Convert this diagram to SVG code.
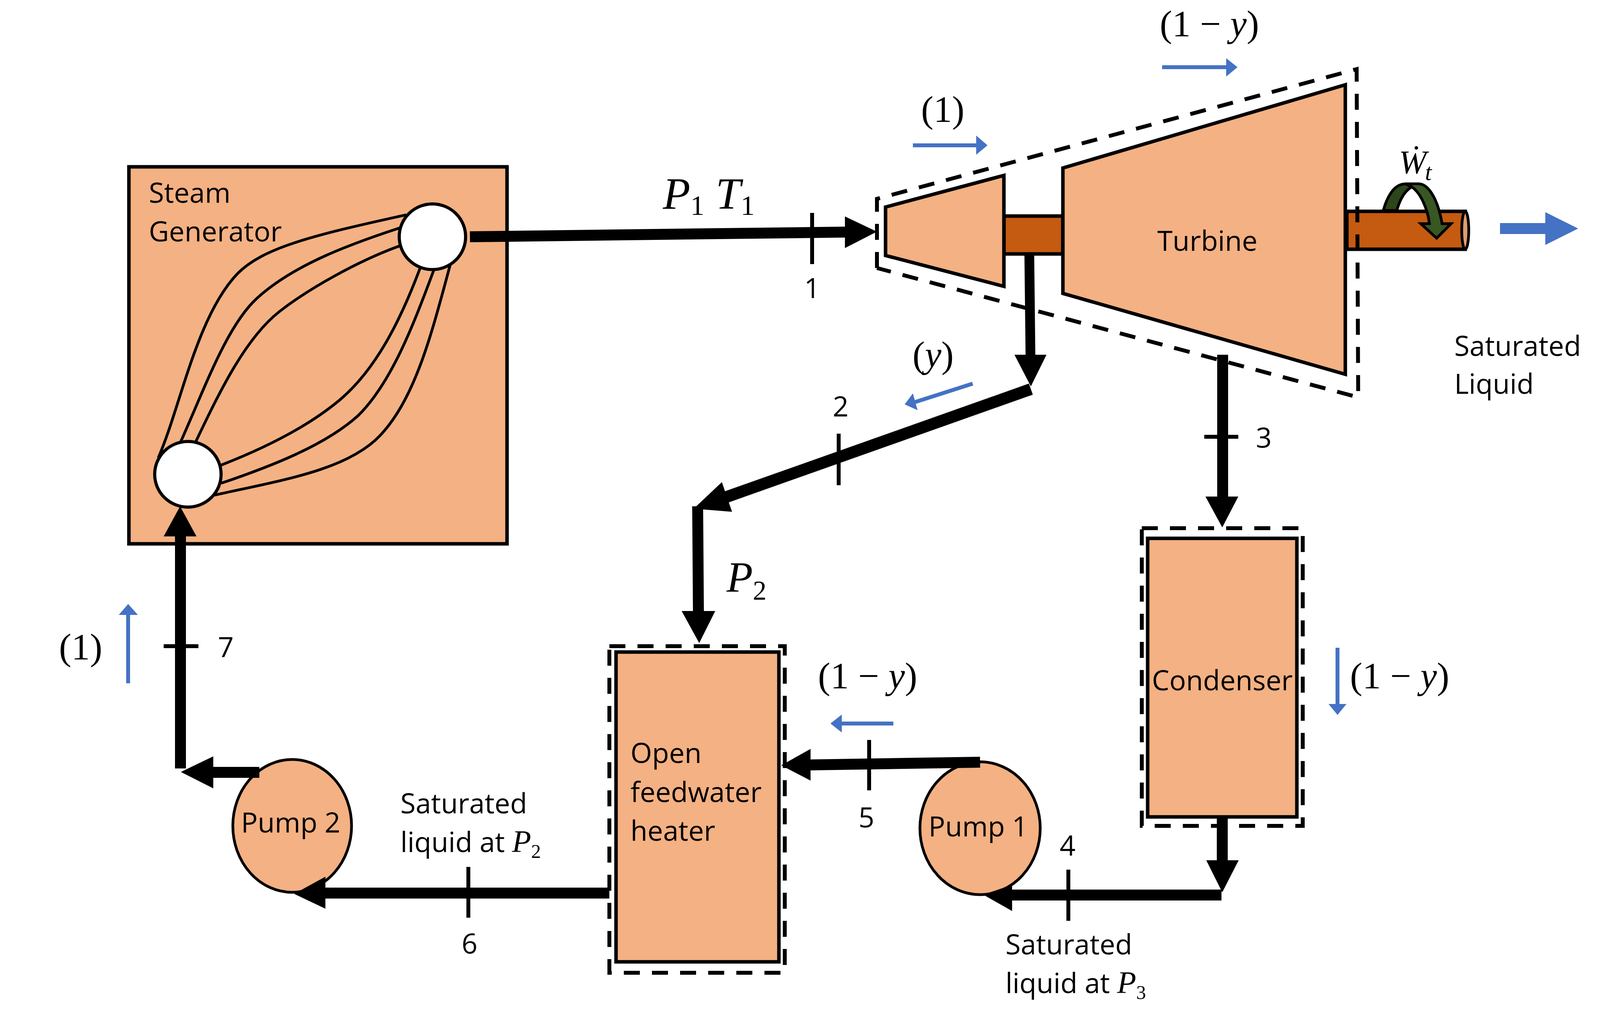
<svg xmlns="http://www.w3.org/2000/svg" width="4126" height="2616" viewBox="0 0 4126 2616">
<style>
text{font-family:"Open Sans","Noto Sans","Liberation Sans",sans-serif;font-size:71px;fill:#000}
.m{font-family:"Liberation Serif","Times New Roman",serif;font-size:95px}
.i{font-style:italic}
.n{fill:#F4B183;stroke:#000;stroke-width:9}
.s{fill:#C55A11;stroke:#000;stroke-width:9}
.d{fill:none;stroke:#000;stroke-width:10;stroke-dasharray:41 31}
.c{fill:none;stroke:#000;stroke-width:7;vector-effect:non-scaling-stroke}
.w{fill:#fff;stroke:#000;stroke-width:8}
.l{fill:none;stroke:#000;stroke-width:28}
.h{fill:#000}
.t{fill:none;stroke:#000;stroke-width:10}
.b{fill:none;stroke:#4472C4;stroke-width:10}
.bh{fill:#4472C4}
</style>
<g id="steam-generator">
<rect class="n" x="330" y="427" width="968" height="965"/>
<g transform="translate(300 400) scale(.7015 .6378)">
<path class="c" d="M150,1210C230,1010 290,640 440,470C530,370 700,320 1055,235"/>
<path class="c" d="M230,1150C320,930 400,680 510,570C640,440 830,360 1030,288"/>
<path class="c" d="M287,1145C380,930 470,730 590,625C700,530 880,420 1030,360"/>
<path class="c" d="M378,1240C530,1175 690,1090 810,980C940,860 1030,670 1105,450"/>
<path class="c" d="M380,1312C560,1245 760,1160 880,1040C1000,910 1080,680 1155,458"/>
<path class="c" d="M355,1360C600,1300 840,1260 960,1120C1090,970 1150,700 1215,437"/>
</g>
<ellipse class="w" cx="1107" cy="606" rx="85" ry="84"/>
<ellipse class="w" cx="481" cy="1214" rx="85" ry="84"/>
<text x="381" y="519">Steam</text>
<text x="381" y="618">Generator</text>
</g>
<g id="turbine">
<rect class="s" x="2570" y="553" width="151" height="97"/>
<rect class="s" x="3448" y="541" width="303" height="97"/>
<ellipse cx="3751" cy="589.500" rx="9" ry="48.500" fill="#DF9C6E" stroke="#000" stroke-width="7"/>
<polygon class="n" points="2267,530 2570,449 2570,733 2267,654"/>
<polygon class="n" points="2721,430 3444,217 3444,958 2721,751"/>
<path class="d" d="M2245,686V509L3473,177L3477,1017L2245,686"/>
<text x="3091" y="642" text-anchor="middle">Turbine</text>
<g transform="translate(3400 350) scale(.463 .333)">
<path d="M305,567C335,420 380,362 430,362L462,385C420,420 395,490 380,567Z" fill="#2C4619" stroke="#000" stroke-width="7" vector-effect="non-scaling-stroke"/>
<path d="M430,362H500C560,362 610,500 630,668H680L600,780L512,668H560C550,550 510,430 462,385Z" fill="#385723" stroke="#000" stroke-width="7" vector-effect="non-scaling-stroke"/>
</g>
<text class="m i" style="font-size:85px" x="3581" y="444">Ẇ</text>
<text class="m i" style="font-size:62px" x="3648" y="461">t</text>
<polygon class="bh" points="3840,571 3956,571 3956,543 4040,585 3956,627 3956,599 3840,599"/>
<text x="3723" y="911">Saturated</text>
<text x="3723" y="1008">Liquid</text>
</g>
<g id="condenser">
<rect class="n" x="2938" y="1378" width="382" height="713"/>
<rect class="d" x="2923" y="1352" width="412" height="762"/>
<text x="3129" y="1767" text-anchor="middle">Condenser</text>
</g>
<g id="open-feedwater-heater">
<rect class="n" x="1577" y="1669" width="417" height="793"/>
<rect class="d" x="1560" y="1654" width="449" height="836"/>
<text x="1614" y="1953">Open</text>
<text x="1614" y="2053">feedwater</text>
<text x="1614" y="2152">heater</text>
</g>
<g id="pump-1">
<ellipse class="n" style="stroke-width:7" cx="2509" cy="2120" rx="154" ry="170"/>
<text x="2377" y="2141">Pump 1</text>
</g>
<g id="pump-2">
<ellipse class="n" style="stroke-width:7" cx="748" cy="2114" rx="152" ry="170"/>
<text x="617" y="2131">Pump 2</text>
</g>
<g id="connectors">
<path class="l" d="M1203,606L2170,594"/>
<polygon class="h" points="2163,554 2245,593 2163,635"/>
<path class="l" style="stroke-width:25" d="M2635,650L2638,912"/>
<polygon class="h" points="2597,908 2679,908 2639,989"/>
<path class="l" style="stroke-width:30" d="M2639,996L1860,1272"/>
<polygon class="h" points="1874,1310 1848,1234 1776,1302"/>
<path class="l" d="M1786,1296L1788,1570"/>
<polygon class="h" points="1745,1564 1831,1564 1790,1646"/>
<path class="l" d="M3130,908V1275"/>
<polygon class="h" points="3086,1271 3170,1271 3129,1350"/>
<path class="l" d="M3129,2091V2206"/>
<polygon class="h" points="3088,2202 3171,2202 3129,2284"/>
<path class="l" d="M3127,2291H2585"/>
<polygon class="h" points="2591,2265 2591,2332 2517,2290"/>
<path class="l" d="M2509,1951L2070,1958"/>
<polygon class="h" points="2075,1917 2075,1998 2000,1959"/>
<path class="l" d="M1560,2286H828"/>
<polygon class="h" points="833,2244 833,2326 753,2288"/>
<path class="l" d="M664,1977H540"/>
<polygon class="h" points="546,1936 546,2018 463,1976"/>
<path class="l" d="M462,1967V1370"/>
<polygon class="h" points="419,1373 503,1373 461,1296"/>
<path class="t" d="M2079,545V676"/>
<path class="t" d="M2147,1110V1242"/>
<path class="t" d="M3083,1118H3170"/>
<path class="t" d="M2735,2226V2357"/>
<path class="t" d="M2225,1894V2023"/>
<path class="t" d="M1199,2219V2349"/>
<path class="t" d="M419,1654H508"/>
</g>
<g id="flow-arrows">
<path class="b" d="M2975,172H3145"/><polygon class="bh" points="3139,149 3168,172 3139,196"/>
<path class="b" d="M2337,372H2505"/><polygon class="bh" points="2499,347 2528,372 2499,396"/>
<path class="b" d="M2490,982L2340,1030"/><polygon class="bh" points="2337,1007 2349,1050 2316,1035"/>
<path class="b" d="M2287,1852H2150"/><polygon class="bh" points="2155,1829 2155,1875 2126,1852"/>
<path class="b" d="M3424,1658V1808"/><polygon class="bh" points="3401,1802 3447,1802 3424,1830"/>
<path class="b" d="M328,1749V1568"/><polygon class="bh" points="304,1574 353,1574 328,1546"/>
</g>
<g id="labels">
<text class="m" x="1697" y="534" style="font-size:115px"><tspan class="i">P</tspan><tspan dy="16" style="font-size:72px">1</tspan><tspan dy="-16"> </tspan><tspan class="i">T</tspan><tspan dy="16" style="font-size:72px">1</tspan></text>
<text class="m" x="1860" y="1514" style="font-size:110px"><tspan class="i">P</tspan><tspan dy="21" style="font-size:70px">2</tspan></text>
<text x="2079" y="763" text-anchor="middle">1</text>
<text x="2152" y="1066" text-anchor="middle">2</text>
<text x="3215" y="1146">3</text>
<text x="2733" y="2190" text-anchor="middle">4</text>
<text x="2218" y="2118" text-anchor="middle">5</text>
<text x="1202" y="2441" text-anchor="middle">6</text>
<text x="578" y="1682" text-anchor="middle">7</text>
<text class="m" x="2969" y="93">(1 − <tspan class="i">y</tspan>)</text>
<text class="m" x="2358" y="312">(1)</text>
<text class="m" x="2336" y="940">(<tspan class="i">y</tspan>)</text>
<text class="m" x="2094" y="1762">(1 − <tspan class="i">y</tspan>)</text>
<text class="m" x="3456" y="1762">(1 − <tspan class="i">y</tspan>)</text>
<text class="m" x="151" y="1688">(1)</text>
<text x="1025" y="2082">Saturated</text>
<text x="1025" y="2181">liquid at <tspan class="m i" style="font-size:80px">P</tspan><tspan class="m" dy="15" style="font-size:50px">2</tspan></text>
<text x="2574" y="2443">Saturated</text>
<text x="2574" y="2542">liquid at <tspan class="m i" style="font-size:80px">P</tspan><tspan class="m" dy="15" style="font-size:50px">3</tspan></text>
</g>
</svg>
